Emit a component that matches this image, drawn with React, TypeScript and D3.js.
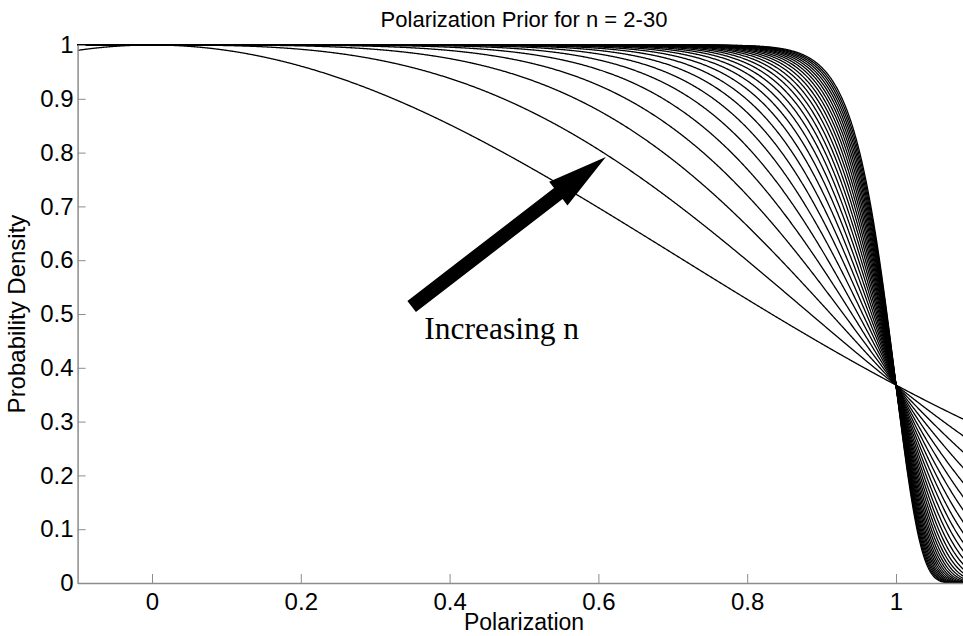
import React, { useEffect, useRef } from 'react';
import * as d3 from 'd3';

// exponents of the prior family, one curve each
const nValues = [2, 3, 4, 5, 6, 7, 8, 9, 10, 11, 12, 13, 14, 15, 16, 17, 18, 19, 20, 21, 22, 23, 24, 25, 26, 27, 28, 29, 30];
const xDomain = [-0.1, 1.1];
const yDomain = [0, 1];
const xTicks = [0, 0.2, 0.4, 0.6, 0.8, 1];
const yTicks = [0, 0.1, 0.2, 0.3, 0.4, 0.5, 0.6, 0.7, 0.8, 0.9, 1];

// annotation arrow (data coords) and its label
const arrowTail = [0.349, 0.514];
const arrowTip = [0.61, 0.792];
const labelPos = [0.366, 0.4535];

// the plotted prior: p(x) = exp(-x^n)
const prior = (x: number, n: number) => Math.exp(-Math.pow(x, n));

const App: React.FC = () => {
  const svgRef = useRef<SVGSVGElement>(null);
  const width = 963;
  const height = 636;

  useEffect(() => {
    if (!svgRef.current) return;
    const svg = d3.select(svgRef.current);
    svg.selectAll('*').remove();

    const margin = { top: 45, left: 77.6 };
    const innerWidth = 892.8;
    const innerHeight = 538;
    const sans = '"Liberation Sans", Arial, Helvetica, sans-serif';
    const axisColor = '#8c8c8c';

    const x = d3.scaleLinear().domain(xDomain).range([0, innerWidth]);
    const y = d3.scaleLinear().domain(yDomain).range([innerHeight, 0]);

    const g = svg.append('g')
      .attr('transform', `translate(${margin.left},${margin.top})`);

    g.append('clipPath')
      .attr('id', 'plot-clip')
      .append('rect')
      .attr('x', 0)
      .attr('y', -1)
      .attr('width', innerWidth)
      .attr('height', innerHeight + 2);

    // sample points along the polarization axis
    const xs = d3.range(xDomain[0], xDomain[1] + 1e-9, 0.001);

    const line = d3.line<number>()
      .x(d => x(d))
      .y(d => y(d));

    const curves = g.append('g').attr('clip-path', 'url(#plot-clip)');
    nValues.forEach(n => {
      curves.append('path')
        .datum(xs)
        .attr('fill', 'none')
        .attr('stroke', '#000')
        .attr('stroke-width', 1.3)
        .attr('d', line.y(d => y(Math.min(prior(d, n), 1.002))));
    });

    // X axis
    const xAxis = g.append('g')
      .attr('transform', `translate(0,${innerHeight})`)
      .call(d3.axisBottom(x).tickValues(xTicks).tickSizeInner(-9).tickSizeOuter(0).tickPadding(10)
        .tickFormat(d => `${d}`));
    xAxis.select('.domain').attr('stroke', axisColor).attr('stroke-width', 1.5);
    xAxis.selectAll('.tick line').attr('stroke', axisColor);
    xAxis.selectAll('text')
      .style('font-family', sans)
      .style('font-size', '24px')
      .style('fill', '#000');

    // Y axis
    const yAxis = g.append('g')
      .call(d3.axisLeft(y).tickValues(yTicks).tickSizeInner(-8).tickSizeOuter(0).tickPadding(4)
        .tickFormat(d => `${d}`));
    yAxis.select('.domain').attr('stroke', axisColor).attr('stroke-width', 1.5);
    yAxis.selectAll('.tick line').attr('stroke', axisColor);
    yAxis.selectAll('text')
      .style('font-family', sans)
      .style('font-size', '24px')
      .style('fill', '#000');

    // Axis labels
    svg.append('text')
      .attr('x', margin.left + innerWidth / 2)
      .attr('y', 630)
      .style('text-anchor', 'middle')
      .style('font-family', sans)
      .style('font-size', '23px')
      .style('fill', '#000')
      .text('Polarization');

    svg.append('text')
      .attr('transform', `translate(25,${margin.top + innerHeight / 2}) rotate(-90)`)
      .style('text-anchor', 'middle')
      .style('font-family', sans)
      .style('font-size', '24px')
      .style('fill', '#000')
      .text('Probability Density');

    // Title
    svg.append('text')
      .attr('x', margin.left + innerWidth / 2)
      .attr('y', 27)
      .style('text-anchor', 'middle')
      .style('font-family', sans)
      .style('font-size', '22px')
      .style('fill', '#000')
      .text('Polarization Prior for n = 2-30');

    // Arrow annotation
    const tx = x(arrowTail[0]), ty = y(arrowTail[1]);
    const hx = x(arrowTip[0]), hy = y(arrowTip[1]);
    const len = Math.hypot(hx - tx, hy - ty);
    const ux = (hx - tx) / len, uy = (hy - ty) / len;
    const px = -uy, py = ux;
    const shaftHalf = 7, headHalf = 15, headLen = 60;
    const bx = hx - ux * headLen, by = hy - uy * headLen;
    const pts: [number, number][] = [
      [tx + px * shaftHalf, ty + py * shaftHalf],
      [bx + px * shaftHalf, by + py * shaftHalf],
      [bx + px * headHalf, by + py * headHalf],
      [hx, hy],
      [bx - px * headHalf, by - py * headHalf],
      [bx - px * shaftHalf, by - py * shaftHalf],
      [tx - px * shaftHalf, ty - py * shaftHalf],
    ];
    g.append('polygon')
      .attr('points', pts.map(p => p.join(',')).join(' '))
      .attr('fill', '#000');

    g.append('text')
      .attr('x', x(labelPos[0]))
      .attr('y', y(labelPos[1]))
      .style('font-family', '"Liberation Serif", "Times New Roman", serif')
      .style('font-size', '31.5px')
      .style('fill', '#000')
      .text('Increasing n');
  }, []);

  return (
    <svg
      ref={svgRef}
      width={width}
      height={height}
      style={{ position: 'absolute', left: 0, top: 0, background: '#fff', display: 'block' }}
    ></svg>
  );
};

export default App;
